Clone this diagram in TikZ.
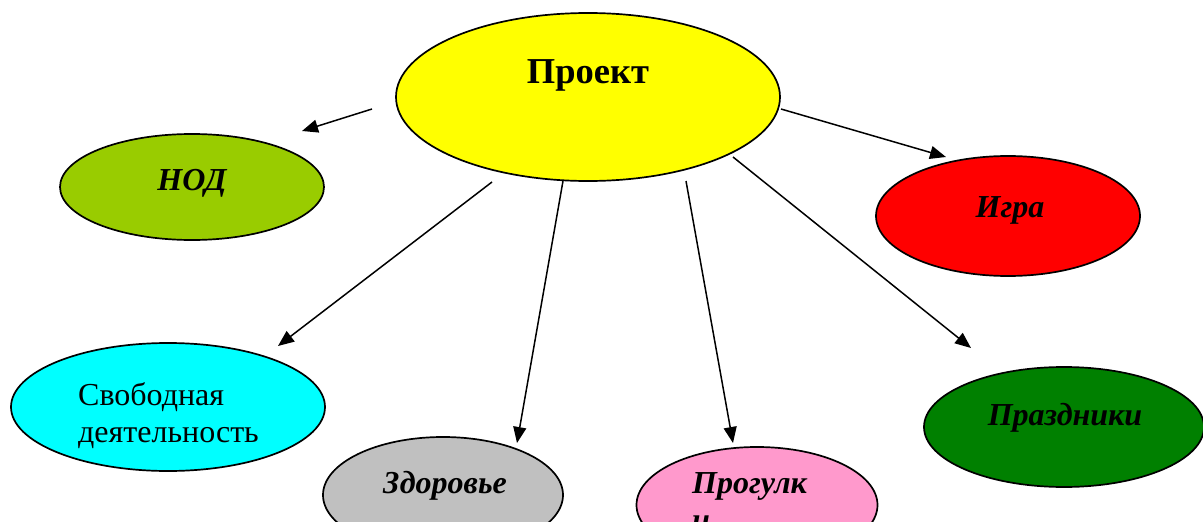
\documentclass[tikz,border=0pt]{standalone}
\usepackage{fontspec}
\setmainfont{Liberation Serif}
\usetikzlibrary{shapes.geometric,arrows.meta}
\definecolor{cYellow}{RGB}{255,255,0}
\definecolor{cNod}{RGB}{153,204,0}
\definecolor{cRed}{RGB}{255,0,0}
\definecolor{cCyan}{RGB}{0,255,255}
\definecolor{cGray}{RGB}{192,192,192}
\definecolor{cPink}{RGB}{255,153,204}
\definecolor{cGreen}{RGB}{0,128,0}
\begin{document}
\begin{tikzpicture}[x=1pt,y=-1pt,
  oval/.style={ellipse, draw=black, line width=1.7pt, inner sep=0pt},
  lbl/.style={font=\fontsize{32}{37}\selectfont\bfseries\itshape, inner sep=0pt, anchor=base},
  plain/.style={font=\fontsize{32}{37}\selectfont, inner sep=0pt, align=left, anchor=base west},
  conn/.style={line width=1.5pt, -{Triangle[length=16pt,width=13pt]}}]
\useasboundingbox (0,0) rectangle (1203,522);
\clip (0,0) rectangle (1203,522);
% ovals
\node[oval, fill=cYellow, minimum width=384pt, minimum height=168pt] (proj) at (588,97) {};
\node[oval, fill=cNod, minimum width=264pt, minimum height=106pt] (nod) at (192,187) {};
\node[oval, fill=cRed, minimum width=264pt, minimum height=120pt] (igra) at (1008,216) {};
\node[oval, fill=cCyan, minimum width=314pt, minimum height=128pt] (svob) at (168,407) {};
\node[oval, fill=cGray, minimum width=240pt, minimum height=116pt] (zdor) at (443,495) {};
\node[oval, fill=cPink, minimum width=241pt, minimum height=116pt] (prog) at (757,505) {};
\node[oval, fill=cGreen, minimum width=280pt, minimum height=120pt] (praz) at (1064,427) {};
% texts
\node[font=\fontsize{36.5}{44}\selectfont\bfseries, inner sep=0pt, anchor=base] (projT) at (588,83) {Проект};
\node[lbl] (nodT) at (192,190) {НОД};
\node[lbl] (igraT) at (1010,217) {Игра};
\node[plain] (svobT) at (78,442) {Свободная\\деятельность};
\node[lbl] (zdorT) at (445,493) {Здоровье};
\node[lbl, align=left, anchor=base west] (progT) at (692,530) {Прогулк\\и};
\node[lbl] (prazT) at (1065,425) {Праздники};
% connector end points
\coordinate (a1) at (372,109); \coordinate (b1) at (302,131);
\coordinate (a2) at (492,182); \coordinate (b2) at (278,346);
\coordinate (a3) at (563,181); \coordinate (b3) at (517,443);
\coordinate (a4) at (686,181); \coordinate (b4) at (733,443);
\coordinate (a5) at (733,157); \coordinate (b5) at (971,348);
\coordinate (a6) at (781,109); \coordinate (b6) at (946,157);
\draw[conn] (a1) -- (b1);
\draw[conn] (a2) -- (b2);
\draw[conn] (a3) -- (b3);
\draw[conn] (a4) -- (b4);
\draw[conn] (a5) -- (b5);
\draw[conn] (a6) -- (b6);
\end{tikzpicture}
\end{document}
